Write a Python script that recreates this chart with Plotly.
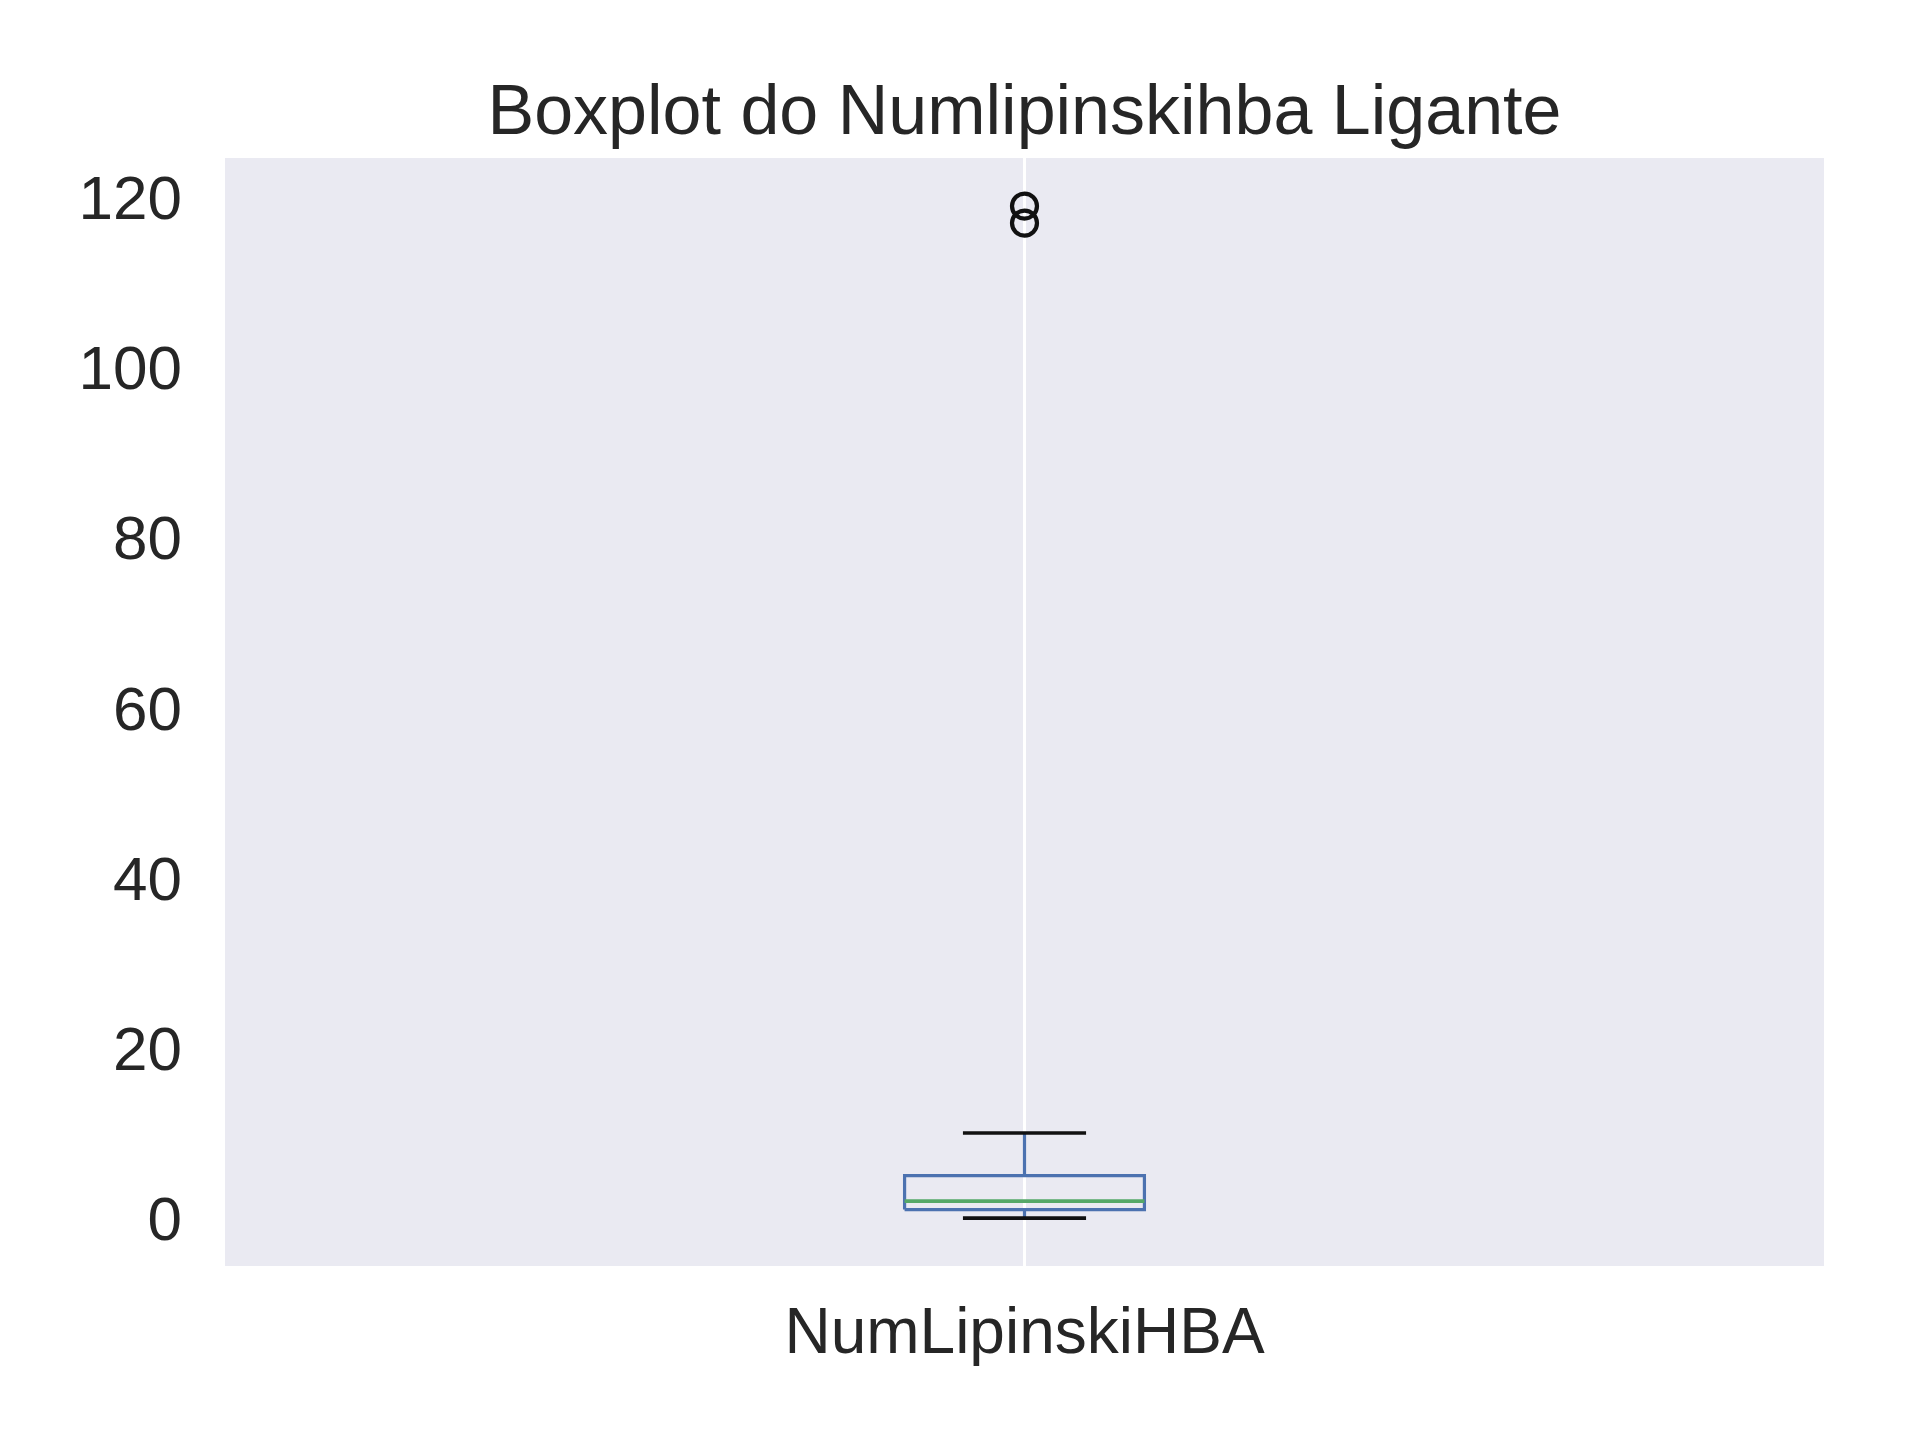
import plotly.graph_objects as go

# Data
category = "NumLipinskiHBA"
whisker_low = 0
q1 = 1
median = 2
q3 = 5
whisker_high = 10
outliers = [117, 119]

title = "Boxplot do Numlipinskihba Ligante"
y_ticks = [0, 20, 40, 60, 80, 100, 120]

# Style
FONT = "Liberation Sans, Arial, sans-serif"
TXT = "#262626"
BLUE = "#4C72B0"
GREEN = "#55A868"
BLACK = "#111111"
pos = 1.0
half_box = 0.075
half_cap = 0.0385

traces = []
# box rectangle
traces.append(go.Scatter(
    x=[pos - half_box, pos + half_box, pos + half_box, pos - half_box, pos - half_box],
    y=[q1, q1, q3, q3, q1], mode="lines",
    line=dict(color=BLUE, width=3.2), hoverinfo="skip"))
# whiskers
traces.append(go.Scatter(x=[pos, pos], y=[q3, whisker_high], mode="lines",
                         line=dict(color=BLUE, width=3.2), hoverinfo="skip"))
traces.append(go.Scatter(x=[pos, pos], y=[q1, whisker_low], mode="lines",
                         line=dict(color=BLUE, width=3.2), hoverinfo="skip"))
# caps
for v in (whisker_high, whisker_low):
    traces.append(go.Scatter(x=[pos - half_cap, pos + half_cap], y=[v, v], mode="lines",
                             line=dict(color=BLACK, width=3.6), hoverinfo="skip"))
# median
traces.append(go.Scatter(x=[pos - half_box, pos + half_box], y=[median, median], mode="lines",
                         line=dict(color=GREEN, width=3.6), hoverinfo="skip"))
# outliers
traces.append(go.Scatter(x=[pos] * len(outliers), y=outliers, mode="markers",
                         marker=dict(symbol="circle-open", size=25, color=BLACK,
                                     line=dict(width=4.2, color=BLACK)),
                         hoverinfo="skip"))

fig = go.Figure(traces)
fig.update_layout(
    width=1920, height=1440,
    margin=dict(l=225, r=96, t=158, b=174),
    paper_bgcolor="white", plot_bgcolor="#EAEAF2",
    showlegend=False,
    font=dict(family=FONT, color=TXT, size=62),
    title=dict(text=title, x=0.5, xanchor="center", xref="paper",
               y=1, yref="paper", yanchor="bottom", pad=dict(b=24),
               font=dict(family=FONT, size=70, color=TXT)),
)
fig.update_xaxes(range=[0.5, 1.5], tickvals=[pos], ticktext=[category],
                 showgrid=True, gridcolor="white", gridwidth=2.5,
                 zeroline=False, showline=False, ticks="",
                 tickfont=dict(size=64, family=FONT, color=TXT),
                 ticklabelstandoff=22)
fig.update_yaxes(range=[-5.63, 124.65], tickvals=y_ticks,
                 showgrid=False, zeroline=False, showline=False, ticks="",
                 tickfont=dict(size=62, family=FONT, color=TXT),
                 ticklabelstandoff=42)

fig.write_html("out.html")
